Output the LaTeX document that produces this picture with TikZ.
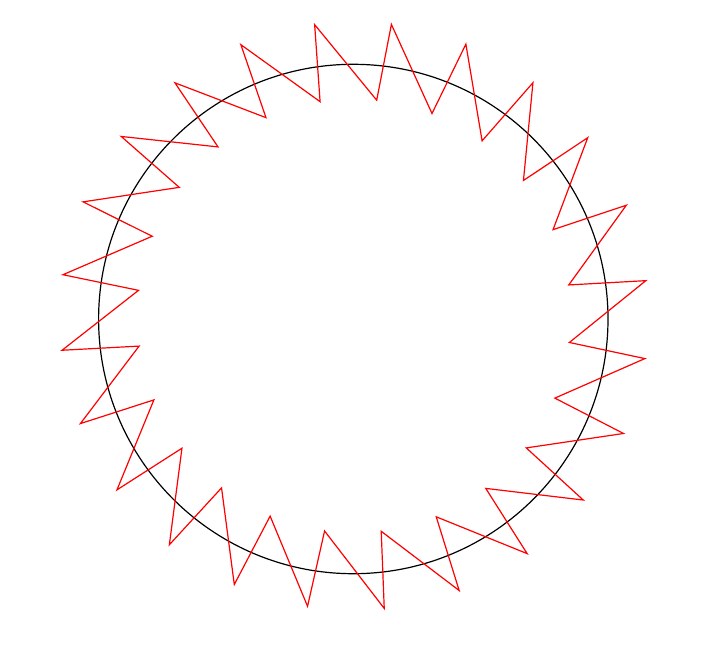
\documentclass[tikz,border=0pt]{standalone}
\usepackage{tikz}

\begin{document}
\begin{tikzpicture}[x=0.5pt,y=0.5pt]
\fill[white] (0,0) rectangle (708,650);
\useasboundingbox (0,0) rectangle (708,650);
\draw[black,line width=0.6pt] (353.3,331) circle (254.7);
\begin{scope}[shift={(354,334)}]
\draw[red,line width=0.6pt] ({6.8+0.9*sin(6.8)}:294)
  \foreach \k in {0,...,23} {
    -- ({8.1+15*\k+0.9*sin(8.1+15*\k)}:217)
    -- ({6.8+15*(\k+1)+0.9*sin(6.8+15*(\k+1))}:294) } -- cycle;
\end{scope}
\end{tikzpicture}
\end{document}
